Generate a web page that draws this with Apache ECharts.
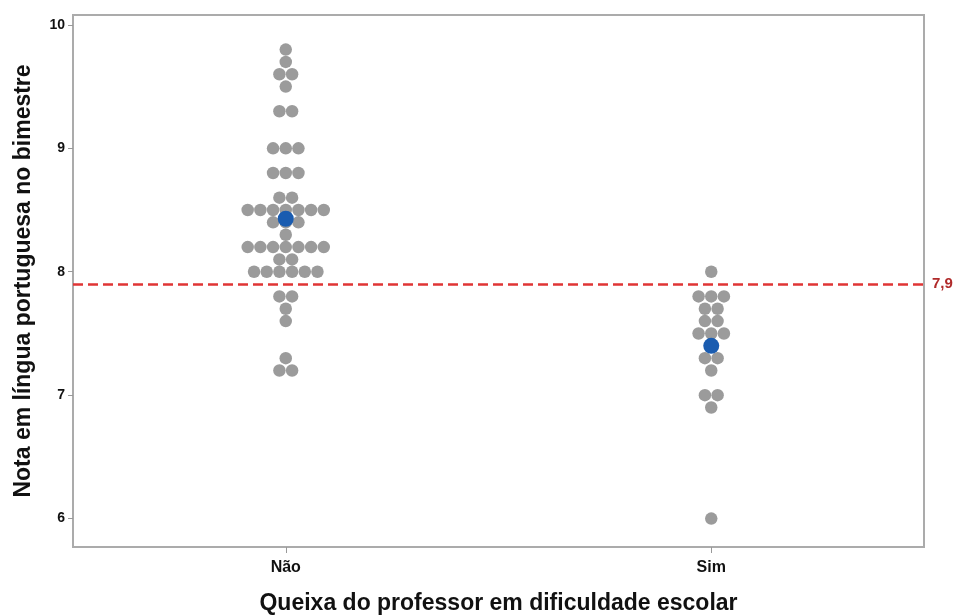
<!DOCTYPE html>
<html>
<head>
<meta charset="utf-8">
<script src="https://cdn.jsdelivr.net/npm/echarts@6/dist/echarts.min.js"></script>
<style>
  html, body { margin: 0; padding: 0; background: #ffffff; }
  #chart { width: 954px; height: 615px; }
</style>
</head>
<body>
<div id="chart"></div>
<script>
// ---- Data ----
const categories = ['Não', 'Sim'];
const naoValues = [
  9.8, 9.7, 9.6, 9.6, 9.5, 9.3, 9.3,
  9.0, 9.0, 9.0, 8.8, 8.8, 8.8, 8.6, 8.6,
  8.5, 8.5, 8.5, 8.5, 8.5, 8.5, 8.5,
  8.4, 8.4, 8.4, 8.3,
  8.2, 8.2, 8.2, 8.2, 8.2, 8.2, 8.2,
  8.1, 8.1,
  8.0, 8.0, 8.0, 8.0, 8.0, 8.0,
  7.8, 7.8, 7.7, 7.6, 7.3, 7.2, 7.2
];
const simValues = [
  8.0, 7.8, 7.8, 7.8, 7.7, 7.7, 7.6, 7.6,
  7.5, 7.5, 7.5, 7.3, 7.3, 7.2, 7.0, 7.0, 6.9, 6.0
];
const referenceValue = 7.9;
const referenceLabel = '7,9';
const yTickValues = [6, 7, 8, 9, 10];
const xTitle = 'Queixa do professor em dificuldade escolar';
const yTitle = 'Nota em língua portuguesa no bimestre';

// ---- Beeswarm layout (offsets computed from the data) ----
const dotStep = 0.0298; // horizontal spacing between stacked dots, in x-axis units
function swarm(values, center) {
  const groups = {};
  values.forEach(v => {
    const k = v.toFixed(1);
    (groups[k] = groups[k] || []).push(v);
  });
  const pts = [];
  Object.keys(groups).forEach(k => {
    const g = groups[k];
    const n = g.length;
    g.forEach((v, i) => pts.push([center + (i - (n - 1) / 2) * dotStep, v]));
  });
  return pts;
}
function mean(a) { return a.reduce((s, v) => s + v, 0) / a.length; }

const groupsData = [naoValues, simValues];
const dotPoints = [];
groupsData.forEach((vals, i) => swarm(vals, i + 1).forEach(p => dotPoints.push(p)));
const meanPoints = groupsData.map((vals, i) => [i + 1, mean(vals)]);

const font = 'Liberation Sans, Arial, sans-serif';

const chart = echarts.init(document.getElementById('chart'), null, { renderer: 'canvas' });
chart.setOption({
  animation: false,
  backgroundColor: '#ffffff',
  grid: {
    left: 73, top: 15, right: 30, bottom: 68,
    outerBoundsMode: 'none',
    containLabel: false,
    show: true, borderColor: '#ababab', borderWidth: 2, backgroundColor: 'transparent'
  },
  xAxis: {
    type: 'value',
    min: 0.5, max: 2.5,
    name: xTitle,
    nameLocation: 'middle',
    nameGap: 45,
    nameTextStyle: { fontFamily: font, fontSize: 23, fontWeight: 'bold', color: '#111' },
    splitLine: { show: false },
    axisLine: { show: true, onZero: false, lineStyle: { color: '#ababab', width: 2 } },
    axisTick: { show: true, customValues: [1, 2], length: 6, lineStyle: { color: '#999', width: 1 } },
    axisLabel: {
      customValues: [1, 2],
      formatter: v => categories[Math.round(v) - 1] || '',
      fontFamily: font, fontSize: 16, fontWeight: 'bold', color: '#111', margin: 13
    }
  },
  yAxis: {
    type: 'value',
    min: 5.77, max: 10.08,
    name: yTitle,
    nameLocation: 'middle',
    nameGap: 38,
    nameTextStyle: { fontFamily: font, fontSize: 23, fontWeight: 'bold', color: '#111' },
    splitLine: { show: false },
    axisLine: { show: true, lineStyle: { color: '#ababab', width: 2 } },
    axisTick: { show: true, customValues: yTickValues, length: 5, lineStyle: { color: '#999', width: 1 } },
    axisLabel: {
      customValues: yTickValues,
      fontFamily: font, fontSize: 14, fontWeight: 'bold', color: '#111', margin: 8
    }
  },
  series: [
    {
      type: 'scatter',
      data: dotPoints,
      symbol: 'circle',
      symbolSize: 12.5,
      itemStyle: { color: '#9b9b9b', opacity: 1 },
      z: 2,
      markLine: {
        silent: true,
        symbol: ['none', 'none'],
        lineStyle: { color: '#e03535', type: [10, 5], width: 2.5 },
        label: {
          show: true, position: 'end', formatter: referenceLabel,
          color: '#b02a2a', fontFamily: font, fontSize: 15, fontWeight: 'bold', distance: 8
        },
        data: [{ yAxis: referenceValue }]
      }
    },
    {
      type: 'scatter',
      data: meanPoints,
      symbol: 'circle',
      symbolSize: 16,
      itemStyle: { color: '#1a5cb0', opacity: 1 },
      z: 3
    }
  ]
});
</script>
</body>
</html>
